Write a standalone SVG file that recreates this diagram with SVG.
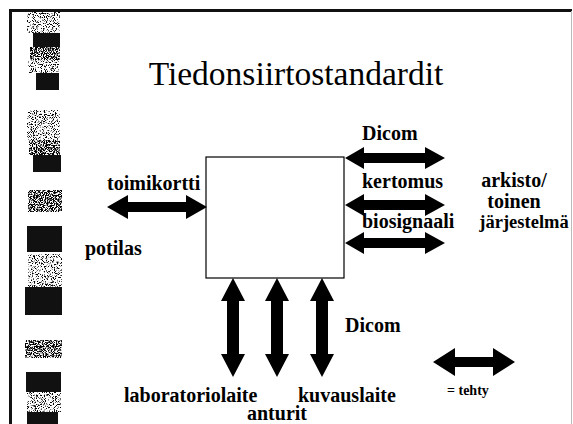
<svg xmlns="http://www.w3.org/2000/svg" width="573" height="424" viewBox="0 0 573 424">
<style>
  .t { font-family: "Liberation Serif", "Times New Roman", serif; fill: #000; }
  .lbl { font-family: "Liberation Serif", "Times New Roman", serif; font-size: 20px; font-weight: bold; fill: #000; }
  .title { font-size: 33.5px; }
  .arr { fill: #000; }
  .blk { fill: #111; }
  .dense { fill: #000; filter: url(#dense); }
  .light { fill: #000; filter: url(#light); }
</style>
<defs>
  <filter id="dense" x="0" y="0" width="1" height="1">
    <feTurbulence type="fractalNoise" baseFrequency="0.9" numOctaves="2" seed="4" result="n"/>
    <feColorMatrix in="n" type="matrix" values="0 0 0 0 0  0 0 0 0 0  0 0 0 0 0  -8 0 0 0 4.6" result="m"/>
    <feComposite in="SourceGraphic" in2="m" operator="in"/>
  </filter>
  <filter id="light" x="0" y="0" width="1" height="1">
    <feTurbulence type="fractalNoise" baseFrequency="0.9" numOctaves="2" seed="9" result="n"/>
    <feColorMatrix in="n" type="matrix" values="0 0 0 0 0  0 0 0 0 0  0 0 0 0 0  -8 0 0 0 3.8" result="m"/>
    <feComposite in="SourceGraphic" in2="m" operator="in"/>
  </filter>
</defs>
<rect width="573" height="424" fill="#fff"/>
<g id="frame">
  <rect x="9" y="9" width="563" height="3" fill="#111"/>
  <rect x="9" y="9" width="3" height="415" fill="#111"/>
  <rect x="571" y="11" width="1" height="413" fill="#bbb"/>
</g>
<g id="strip">
  <rect class="light" x="27" y="12" width="33" height="21"/>
  <rect class="blk" x="33" y="33" width="27" height="14"/>
  <rect class="dense" x="30" y="47" width="30" height="13"/>
  <rect class="light" x="28" y="60" width="31" height="13"/>
  <rect class="blk" x="36" y="73" width="23" height="17"/>
  <rect class="light" x="27" y="110" width="33" height="30"/>
  <rect class="dense" x="29" y="140" width="31" height="15"/>
  <rect class="blk" x="33" y="155" width="28" height="17"/>
  <rect class="dense" x="28" y="190" width="34" height="22"/>
  <rect class="blk" x="27" y="226" width="35" height="26"/>
  <rect class="light" x="28" y="254" width="34" height="33"/>
  <rect class="blk" x="25" y="287" width="37" height="28"/>
  <rect class="dense" x="25" y="340" width="37" height="18"/>
  <rect class="blk" x="26" y="372" width="35" height="20"/>
  <rect class="light" x="27" y="392" width="34" height="20"/>
  <rect class="blk" x="27" y="412" width="31" height="12"/>
</g>
<text class="t title" x="296" y="85" text-anchor="middle">Tiedonsiirtostandardit</text>
<g id="center">
  <rect x="206" y="157" width="138" height="121" fill="#fff" stroke="#000" stroke-width="1.2"/>
</g>
<g id="connectors">
  <polygon class="arr" points="107,207 128,195 128,202 186,202 186,195 207,207 186,219 186,212 128,212 128,219"/>
  <polygon class="arr" points="345,158 364,147 364,153 425,153 425,147 445,158 425,169 425,163 364,163 364,169"/>
  <polygon class="arr" points="345,205 364,194 364,200 425,200 425,194 445,205 425,216 425,210 364,210 364,216"/>
  <polygon class="arr" points="345,243 364,232 364,238 425,238 425,232 445,243 425,254 425,248 364,248 364,254"/>
  <polygon class="arr" points="233,278 245,301 239,301 239,354 245,354 233,377 221,354 227,354 227,301 221,301"/>
  <polygon class="arr" points="277,278 289,301 283,301 283,354 289,354 277,377 265,354 271,354 271,301 265,301"/>
  <polygon class="arr" points="322,278 334,301 328,301 328,354 334,354 322,377 310,354 316,354 316,301 310,301"/>
</g>
<g id="legend">
  <polygon class="arr" points="433,362 455,348 455,357 493,357 493,348 515,362 493,376 493,367 455,367 455,376"/>
  <text class="lbl" x="447" y="395" style="font-size:14px">= tehty</text>
</g>
<g id="labels">
  <text class="lbl" x="362" y="140">Dicom</text>
  <text class="lbl" x="362" y="188">kertomus</text>
  <text class="lbl" x="362" y="228">biosignaali</text>
  <text class="lbl" x="514" y="187" text-anchor="middle">arkisto/</text>
  <text class="lbl" x="514" y="208" text-anchor="middle">toinen</text>
  <text class="lbl" x="524" y="228" text-anchor="middle" style="font-size:18.5px">järjestelmä</text>
  <text class="lbl" x="107" y="190">toimikortti</text>
  <text class="lbl" x="85" y="255">potilas</text>
  <text class="lbl" x="345" y="332">Dicom</text>
  <text class="lbl" x="124" y="402">laboratoriolaite</text>
  <text class="lbl" x="247" y="420">anturit</text>
  <text class="lbl" x="298" y="402">kuvauslaite</text>
</g>
</svg>
